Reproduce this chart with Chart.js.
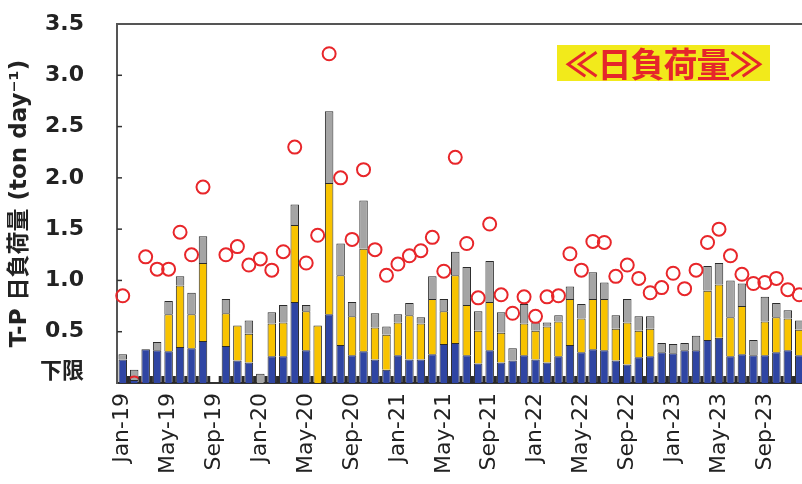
<!DOCTYPE html>
<html>
<head>
<meta charset="utf-8">
<script src="https://cdn.jsdelivr.net/npm/chart.js@4"></script>
<style>
    html, body { margin: 0; padding: 0; background: #fff; overflow: hidden; }
    #wrap { position: relative; width: 802px; height: 484px; overflow: hidden; }
    #load-chart { position: absolute; left: 0; top: 0; }
    #badge {
        position: absolute; left: 557px; top: 45px; width: 213px; height: 36px;
        background: #F2EA1B; color: #E5262B;
        font: bold 34px 'Noto Sans CJK JP', sans-serif;
        line-height: 36px; text-align: center; letter-spacing: -1px;
    }
</style>
</head>
<body>
<div id="wrap">
    <canvas id="load-chart" width="806" height="484"></canvas>
    <div id="badge">≪日負荷量≫</div>
</div>
<script>
// 月ラベル (2019年1月〜2023年12月)
const months = [
    'Jan-19','Feb-19','Mar-19','Apr-19','May-19','Jun-19','Jul-19','Aug-19','Sep-19','Oct-19','Nov-19','Dec-19',
    'Jan-20','Feb-20','Mar-20','Apr-20','May-20','Jun-20','Jul-20','Aug-20','Sep-20','Oct-20','Nov-20','Dec-20',
    'Jan-21','Feb-21','Mar-21','Apr-21','May-21','Jun-21','Jul-21','Aug-21','Sep-21','Oct-21','Nov-21','Dec-21',
    'Jan-22','Feb-22','Mar-22','Apr-22','May-22','Jun-22','Jul-22','Aug-22','Sep-22','Oct-22','Nov-22','Dec-22',
    'Jan-23','Feb-23','Mar-23','Apr-23','May-23','Jun-23','Jul-23','Aug-23','Sep-23','Oct-23','Nov-23','Dec-23'
];

// 積み上げ棒 (下から 青・黄・灰)
const blueLoad = [
    0.23, 0.03, 0.33, 0.32, 0.31, 0.35, 0.34, 0.41, null, 0.36, 0.22, 0.20,
    0.00, 0.26, 0.26, 0.79, 0.32, 0.00, 0.67, 0.37, 0.27, 0.31, 0.23, 0.13,
    0.27, 0.23, 0.23, 0.28, 0.38, 0.39, 0.27, 0.19, 0.32, 0.20, 0.22, 0.27,
    0.23, 0.20, 0.26, 0.37, 0.30, 0.33, 0.32, 0.22, 0.18, 0.25, 0.26, 0.30,
    0.29, 0.32, 0.32, 0.42, 0.44, 0.26, 0.28, 0.27, 0.27, 0.30, 0.32, 0.27
];
const yellowLoad = [
    0.00, 0.00, 0.00, 0.00, 0.36, 0.60, 0.33, 0.76, null, 0.32, 0.34, 0.28,
    0.00, 0.32, 0.33, 0.75, 0.38, 0.56, 1.28, 0.68, 0.38, 1.00, 0.31, 0.34,
    0.32, 0.43, 0.35, 0.54, 0.32, 0.66, 0.49, 0.32, 0.47, 0.29, 0.00, 0.31,
    0.28, 0.35, 0.34, 0.45, 0.33, 0.49, 0.50, 0.31, 0.41, 0.26, 0.27, 0.00,
    0.00, 0.00, 0.00, 0.48, 0.52, 0.38, 0.47, 0.00, 0.33, 0.34, 0.31, 0.25
];
const grayLoad = [
    0.05, 0.10, 0.00, 0.08, 0.13, 0.09, 0.21, 0.26, null, 0.14, 0.00, 0.13,
    0.09, 0.11, 0.17, 0.20, 0.06, 0.00, 0.70, 0.31, 0.14, 0.47, 0.14, 0.08,
    0.08, 0.12, 0.06, 0.22, 0.12, 0.23, 0.37, 0.19, 0.40, 0.20, 0.12, 0.19,
    0.08, 0.04, 0.06, 0.12, 0.14, 0.26, 0.16, 0.13, 0.23, 0.14, 0.12, 0.09,
    0.09, 0.07, 0.14, 0.24, 0.21, 0.36, 0.22, 0.15, 0.24, 0.14, 0.08, 0.09
];

// 赤丸 (日負荷量)
const dailyLoad = [
    0.85, 0.00, 1.23, 1.11, 1.11, 1.47, 1.25, 1.91, null, 1.25, 1.33, 1.15,
    1.21, 1.10, 1.28, 2.30, 1.17, 1.44, 3.21, 2.00, 1.40, 2.08, 1.30, 1.05,
    1.16, 1.24, 1.29, 1.42, 1.09, 2.20, 1.36, 0.83, 1.55, 0.86, 0.68, 0.84,
    0.65, 0.84, 0.85, 1.26, 1.10, 1.38, 1.37, 1.04, 1.15, 1.02, 0.88, 0.93,
    1.07, 0.92, 1.10, 1.37, 1.50, 1.24, 1.06, 0.97, 0.98, 1.02, 0.91, 0.86
];

// 縦軸目盛
const yTickValues = [0.1, 0.5, 1.0, 1.5, 2.0, 2.5, 3.0, 3.5];
const yTickLabels = ['下限', '0.5', '1.0', '1.5', '2.0', '2.5', '3.0', '3.5'];

const colors = {
    blue: '#2F45A3',
    yellow: '#F8C300',
    gray: '#A5A5A5',
    edge: '#2a2a2a',
    red: '#E8262A',
    text: '#222'
};
const fontFamily = "'DejaVu Sans', 'Noto Sans CJK JP', sans-serif";

// 枠線と内向き目盛
const frameTicks = {
    id: 'frameTicks',
    afterDatasetsDraw(chart) {
        const { ctx, chartArea: a, scales: { x, y } } = chart;
        ctx.save();
        ctx.strokeStyle = '#555';
        ctx.lineWidth = 2;
        ctx.beginPath();
        ctx.moveTo(a.left, a.top);
        ctx.lineTo(a.right, a.top);
        ctx.stroke();

        ctx.strokeStyle = '#333';
        ctx.lineWidth = 1.5;
        yTickValues.forEach(v => {
            if (v < 0.5 || v >= 3.5) return;
            const py = y.getPixelForValue(v);
            ctx.beginPath();
            ctx.moveTo(a.left, py);
            ctx.lineTo(a.left + 5, py);
            ctx.stroke();
        });

        const step = x.getPixelForValue(1) - x.getPixelForValue(0);
        ctx.strokeStyle = colors.edge;
        ctx.lineWidth = 3;
        for (let i = 1; i < months.length; i++) {
            const px = x.getPixelForValue(i) - step / 2;
            ctx.beginPath();
            ctx.moveTo(px, a.bottom);
            ctx.lineTo(px, a.bottom - 7);
            ctx.stroke();
        }
        ctx.restore();
    }
};

function barSet(label, data, color) {
    return {
        label: label,
        data: data,
        backgroundColor: color,
        borderColor: colors.edge,
        borderWidth: 1,
        barPercentage: 0.74,
        categoryPercentage: 1.0,
        stack: 'load',
        order: 1
    };
}

const ctx = document.getElementById('load-chart').getContext('2d');
new Chart(ctx, {
    type: 'bar',
    data: {
        labels: months,
        datasets: [
            {
                type: 'line',
                label: '日負荷量',
                data: dailyLoad,
                showLine: false,
                pointStyle: 'circle',
                pointRadius: 6.5,
                pointBorderWidth: 2,
                pointBorderColor: colors.red,
                pointBackgroundColor: 'rgba(0,0,0,0)',
                stack: 'points',
                order: 0
            },
            barSet('blue', blueLoad, colors.blue),
            barSet('yellow', yellowLoad, colors.yellow),
            barSet('gray', grayLoad, colors.gray)
        ]
    },
    options: {
        responsive: false,
        devicePixelRatio: 1,
        animation: false,
        layout: {
            autoPadding: false,
            padding: { top: 24, right: 1, left: 0, bottom: 0 }
        },
        plugins: {
            legend: { display: false },
            tooltip: { enabled: false }
        },
        scales: {
            x: {
                stacked: true,
                offset: true,
                grid: { display: false, drawTicks: false },
                border: { display: true, color: '#333', width: 2 },
                ticks: {
                    autoSkip: false,
                    maxRotation: 90,
                    minRotation: 90,
                    padding: 10,
                    color: colors.text,
                    font: { family: fontFamily, size: 22 },
                    callback: (v, i) => (i % 4 === 0 ? months[i] : '')
                },
                afterFit: s => {
                    s.height = 101;
                    s.paddingLeft = 0;
                    s.paddingRight = 0;
                }
            },
            y: {
                stacked: true,
                min: 0,
                max: 3.5,
                afterBuildTicks: s => { s.ticks = yTickValues.map(v => ({ value: v })); },
                grid: { display: false, drawTicks: false },
                border: { display: true, color: '#555', width: 2 },
                ticks: {
                    padding: 33,
                    color: colors.text,
                    font: { family: fontFamily, size: 22, weight: 'bold' },
                    callback: (v, i) => yTickLabels[i]
                },
                title: {
                    display: true,
                    text: 'T-P 日負荷量 (ton day⁻¹)',
                    color: colors.text,
                    font: { family: fontFamily, size: 23, weight: 'bold' },
                    padding: { top: 6, bottom: 0 }
                },
                afterFit: s => {
                    s.width = 117;
                    s.paddingTop = 0;
                    s.paddingBottom = 0;
                }
            }
        }
    },
    plugins: [frameTicks]
});
</script>
</body>
</html>
